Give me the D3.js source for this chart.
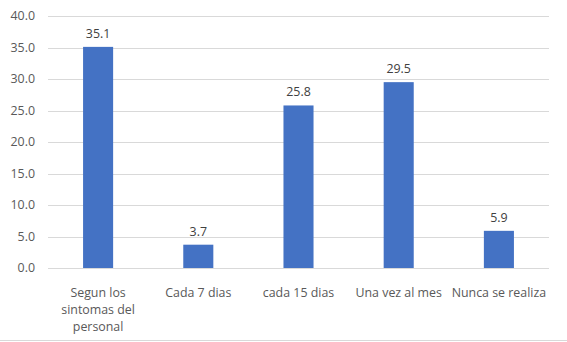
<!DOCTYPE html>
<html>
<head>
<meta charset="utf-8">
<script src="https://cdn.jsdelivr.net/npm/d3@7"></script>
<style>
  body { margin: 0; background: #fff; }
  text { font-family: "Open Sans", "Noto Sans", sans-serif; }
</style>
</head>
<body>
<div id="chart"></div>
<script>
const categories = [
    ['Segun los', 'sintomas del', 'personal'],
    ['Cada 7 dias'],
    ['cada 15 dias'],
    ['Una vez al mes'],
    ['Nunca se realiza']
]
const values = [35.1, 3.7, 25.8, 29.5, 5.9]
const yTicks = [0, 5, 10, 15, 20, 25, 30, 35, 40]

const W = 567, H = 342
const margin = {top: 16, right: 18, bottom: 74, left: 48}
const width = W - margin.left - margin.right
const height = H - margin.top - margin.bottom
const fontSize = '12.4px'

const svg = d3.select('#chart').append('svg')
    .attr('width', W)
    .attr('height', H)

// outer frame line at the bottom of the picture
svg.append('line')
    .attr('x1', 0).attr('x2', W)
    .attr('y1', H - 1.5).attr('y2', H - 1.5)
    .attr('stroke', '#d9d9d9')

const g = svg.append('g')
    .attr('transform', `translate(${margin.left},${margin.top})`)

const keys = categories.map((c, i) => i)
const xScale = d3.scaleBand()
    .domain(keys)
    .range([0, width])
    .paddingInner(0.7)
    .paddingOuter(0.35)
const yScale = d3.scaleLinear()
    .domain([0, 40])
    .range([height, 0])

// gridlines
g.append('g')
    .selectAll('line')
    .data(yTicks)
    .join('line')
    .attr('x1', 0)
    .attr('x2', width)
    .attr('y1', d => Math.round(yScale(d)) + 0.5)
    .attr('y2', d => Math.round(yScale(d)) + 0.5)
    .attr('stroke', '#d9d9d9')
    .attr('stroke-width', 1)

// y axis labels
const yAxis = g.append('g')
    .call(d3.axisLeft(yScale).tickValues(yTicks).tickFormat(d3.format('.1f')).tickSize(0).tickPadding(13))
yAxis.select('.domain').remove()
yAxis.selectAll('text')
    .attr('fill', '#595959')
    .style('font-size', fontSize)

// bars
g.selectAll('.bar')
    .data(values)
    .join('rect')
    .attr('class', 'bar')
    .attr('x', (d, i) => xScale(i))
    .attr('width', xScale.bandwidth())
    .attr('y', d => yScale(d))
    .attr('height', d => height - yScale(d))
    .attr('fill', '#4472c4')

// value labels
g.selectAll('.valueLabel')
    .data(values)
    .join('text')
    .attr('class', 'valueLabel')
    .attr('x', (d, i) => xScale(i) + xScale.bandwidth() / 2)
    .attr('y', d => yScale(d) - 9)
    .attr('text-anchor', 'middle')
    .attr('fill', '#404040')
    .style('font-size', fontSize)
    .text(d => d3.format('.1f')(d))

// category labels
const xAxis = g.append('g')
    .attr('transform', `translate(0,${height})`)
xAxis.selectAll('text')
    .data(categories)
    .join('text')
    .attr('x', (d, i) => xScale(i) + xScale.bandwidth() / 2)
    .attr('y', 29)
    .attr('text-anchor', 'middle')
    .attr('fill', '#595959')
    .style('font-size', fontSize)
    .each(function(lines) {
        d3.select(this).selectAll('tspan')
            .data(lines)
            .join('tspan')
            .attr('x', d3.select(this).attr('x'))
            .attr('dy', (l, j) => j == 0 ? 0 : 17)
            .text(l => l)
    })
</script>
</body>
</html>
